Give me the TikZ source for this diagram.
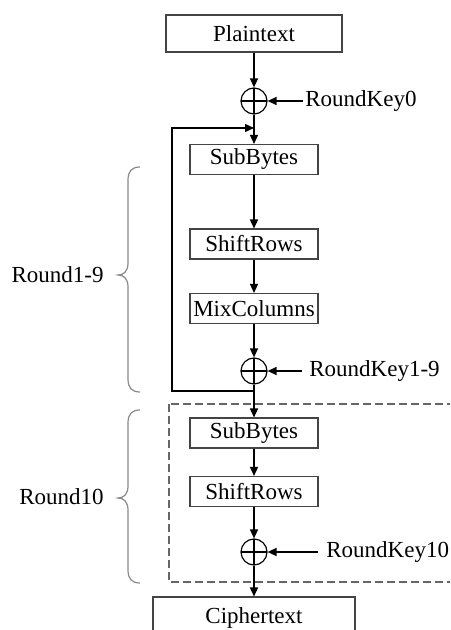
\documentclass[tikz,border=0pt]{standalone}
\usepackage{fontspec}
\setmainfont{Liberation Serif}
\usetikzlibrary{arrows.meta}
\definecolor{boxline}{HTML}{444444}
\definecolor{bracecol}{HTML}{8A8A8A}
\definecolor{dashcol}{HTML}{666666}
\tikzset{
  stepbox/.style={draw=boxline, line width=0.55pt, minimum width=64pt, minimum height=15pt, inner sep=0pt, font=\fontsize{11.5}{13}\selectfont},
  bigbox/.style={stepbox, minimum width=88pt, minimum height=18.5pt},
  xorop/.style={circle, draw=black, line width=0.6pt, minimum size=13pt, inner sep=0pt,
    path picture={\draw[line width=0.6pt] (path picture bounding box.north) -- (path picture bounding box.south)
      (path picture bounding box.west) -- (path picture bounding box.east);}},
  flow/.style={line width=0.7pt, -{Triangle[length=4.5pt,width=4pt]}},
  lbl/.style={inner sep=0pt, font=\fontsize{11.5}{13}\selectfont},
  bracestyle/.style={draw=bracecol, line width=0.6pt}
}
\begin{document}
\begin{tikzpicture}[x=0.5pt,y=-0.5pt]
\useasboundingbox (0,0) rectangle (450,630);
\clip (0,0) rectangle (450,630);
\fill[white] (0,0) rectangle (450,630);

% dashed final-round frame
\draw[dashcol, line width=0.6pt, dash pattern=on 4pt off 2pt] (169,404) rectangle (470,582);

% nodes
\node[bigbox] (plain) at (254,33.5) {Plaintext};
\node[xorop] (x0) at (254,101) {};
\node[lbl, anchor=west] (k0) at (305,101) {RoundKey0};
\node[stepbox] (sb1) at (254,159.5) {SubBytes};
\node[stepbox] (sr1) at (254,244) {ShiftRows};
\node[stepbox] (mc1) at (254,308.5) {MixColumns};
\node[xorop] (x1) at (254,371) {};
\node[lbl, anchor=west] (k1) at (309,371) {RoundKey1-9};
\node[stepbox] (sb2) at (254,433) {SubBytes};
\node[stepbox] (sr2) at (254,491.5) {ShiftRows};
\node[xorop] (x2) at (254,552) {};
\node[lbl, anchor=west] (k2) at (326,552) {RoundKey10};
\node[stepbox, minimum width=101pt, minimum height=21pt] (ciph) at (254,618) {Ciphertext};

\node[lbl, anchor=east] (r19) at (104,275) {Round1-9};
\node[lbl, anchor=east] (r10) at (104,497) {Round10};

\coordinate (loopbot) at (254,391);
\coordinate (looptop) at (254,128);

% connectors
\draw[flow] (plain) -- (x0);
\draw[flow] (k0.west) ++(-2,0) -- (x0);
\draw[flow] (x0) -- (sb1);
\draw[flow] (sb1) -- (sr1);
\draw[flow] (sr1) -- (mc1);
\draw[flow] (mc1) -- (x1);
\draw[flow] (k1.west) ++(-7,0) -- (x1);
\draw[flow] (x1) -- (sb2);
\draw[flow] (loopbot) -- (172,391) -- (172,128) -- (looptop);
\draw[flow] (sb2) -- (sr2);
\draw[flow] (sr2) -- (x2);
\draw[flow] (k2.west) ++(-8,0) -- (x2);
\draw[flow] (x2) -- (ciph);

% braces
\draw[bracestyle] (140,167) .. controls (132,167) and (128,171) .. (128,180)
  -- (128,263) .. controls (128,271) and (124,275) .. (118,275)
  .. controls (124,275) and (128,279) .. (128,287)
  -- (128,379) .. controls (128,388) and (132,392) .. (140,392);
\draw[bracestyle] (140,410) .. controls (132,410) and (128,414) .. (128,423)
  -- (128,486) .. controls (128,494) and (124,498) .. (118,498)
  .. controls (124,498) and (128,502) .. (128,510)
  -- (128,570) .. controls (128,579) and (132,583) .. (140,583);
\end{tikzpicture}
\end{document}
